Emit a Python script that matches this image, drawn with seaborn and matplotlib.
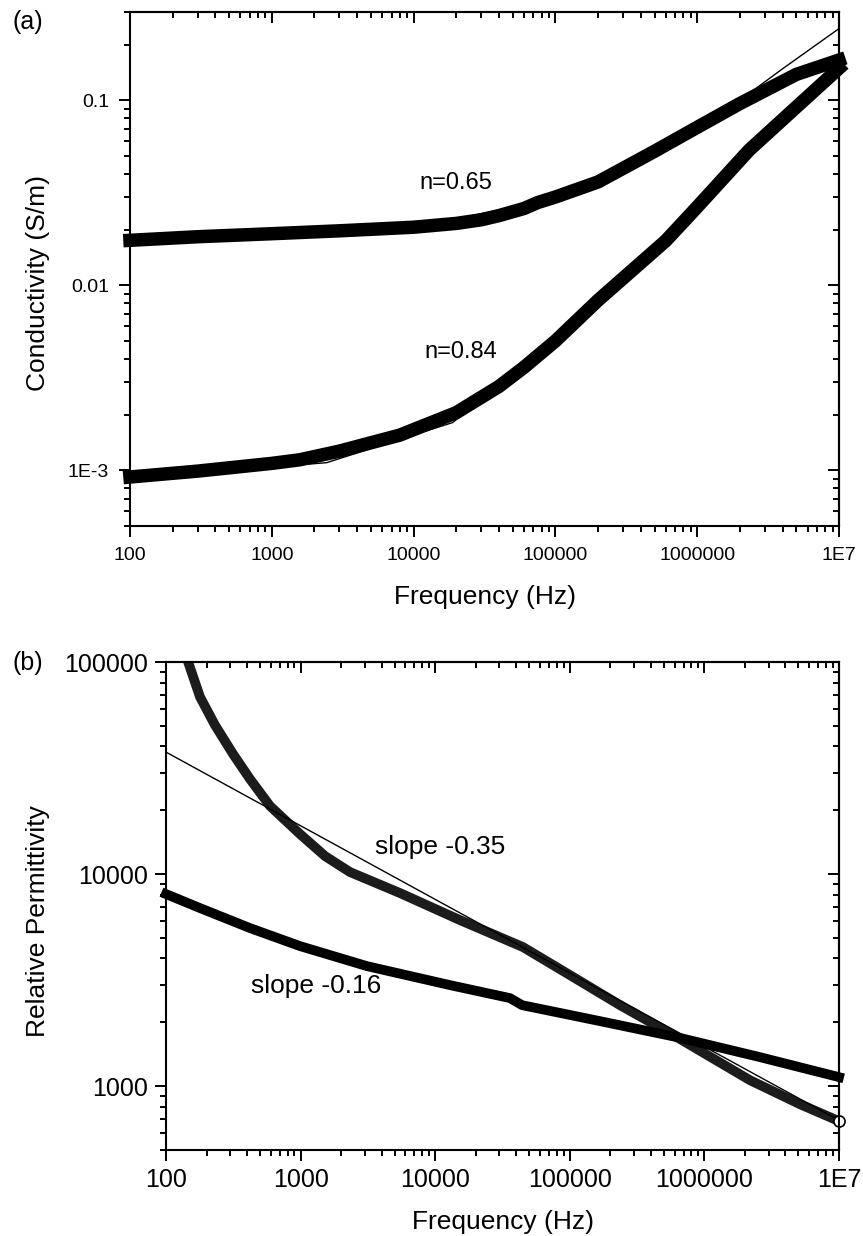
import numpy as np
import pandas as pd
import matplotlib
matplotlib.use("Agg")
import matplotlib.pyplot as plt
from matplotlib.ticker import LogLocator, NullFormatter
import seaborn as sns

# ---- panel (a): conductivity (S/m) vs frequency (Hz)
freq_a_hi = [100, 300, 1000, 3000, 10000, 20000, 30000, 40000, 60000, 75000, 100000,
             200000, 500000, 1e6, 2e6, 5e6, 1e7]
sig_a_hi = [0.0175, 0.0183, 0.0190, 0.0197, 0.0206, 0.0216, 0.0226, 0.0238, 0.0260, 0.0280, 0.0300,
            0.0362, 0.0530, 0.0714, 0.0960, 0.138, 0.165]
freq_a_lo = [100, 300, 1000, 1575, 3000, 8000, 20000, 40000, 60000, 100000, 200000,
             600000, 1e6, 2.32e6, 4.9e6, 6.9e6, 1e7]
sig_a_lo = [9.2e-4, 9.9e-4, 1.09e-3, 1.14e-3, 1.27e-3, 1.55e-3, 2.05e-3, 2.84e-3, 3.6e-3, 5.0e-3, 8.3e-3,
            0.0174, 0.0265, 0.0537, 0.0906, 0.115, 0.149]
# fitted curves
fit_f_hi = [100, 1000, 10000, 100000, 1e6, 2e6, 4e6, 1e7]
fit_s_hi = [0.0172, 0.0188, 0.0205, 0.0295, 0.0715, 0.100, 0.148, 0.244]
fit_f_lo = [100, 1000, 2440, 18800, 100000, 1e6, 1e7]
fit_s_lo = [9.2e-4, 1.04e-3, 1.10e-3, 1.81e-3, 4.9e-3, 0.0265, 0.150]

# ---- panel (b): relative permittivity vs frequency (Hz)
freq_b_hi = [146, 179, 231, 315, 421, 593, 990, 1518, 2328, 5477, 15280, 44870,
             100300, 236000, 625000, 2.18e6, 5.13e6, 1e7]
eps_b_hi = [100000, 68400, 50440, 36800, 28050, 20930, 15440, 12160, 10220, 8137, 6067, 4527,
            3339, 2410, 1702, 1067, 822, 684]
freq_b_lo = [100, 179, 421, 990, 3112, 12880, 35970, 44150, 167500, 625400, 2.59e6, 1e7]
eps_b_lo = [8050, 6913, 5563, 4575, 3681, 2995, 2601, 2410, 2026, 1702, 1370, 1103]
# power-law fit (slope -0.35)
fit_f_b = [100, 1e7]
fit_e_b = [37600, 690]

freq_ticks = [100, 1000, 10000, 100000, 1000000, 1e7]
freq_labels = ["100", "1000", "10000", "100000", "1000000", "1E7"]
sig_ticks = [1e-3, 0.01, 0.1]
sig_labels = ["1E-3", "0.01", "0.1"]
eps_ticks = [1000, 10000, 100000]
eps_labels = ["1000", "10000", "100000"]

sns.set_style("ticks", rc={"axes.edgecolor": "black", "xtick.color": "black",
                           "ytick.color": "black", "text.color": "black",
                           "axes.labelcolor": "black"})
plt.rcParams["font.family"] = ["Liberation Sans", "DejaVu Sans"]

fig = plt.figure(figsize=(8.63, 12.36), dpi=100)
ax_a = fig.add_axes([130 / 863, 1 - 526 / 1236, 709 / 863, 514 / 1236])
ax_b = fig.add_axes([166 / 863, 1 - 1150 / 1236, 673 / 863, 488 / 1236])


def style_axes(ax, ylim, yticks, ylabels, fs, pad):
    ax.set_xscale("log")
    ax.set_yscale("log")
    ax.set_xlim(100, 1e7)
    ax.set_ylim(*ylim)
    ax.set_xticks(freq_ticks, freq_labels)
    ax.set_yticks(yticks, ylabels)
    ax.xaxis.set_minor_locator(LogLocator(base=10, subs=np.arange(2, 10), numticks=50))
    ax.yaxis.set_minor_locator(LogLocator(base=10, subs=np.arange(2, 10), numticks=50))
    ax.xaxis.set_minor_formatter(NullFormatter())
    ax.yaxis.set_minor_formatter(NullFormatter())
    ax.tick_params(which="major", direction="out", length=8, width=1.4, labelsize=fs, pad=pad)
    ax.tick_params(which="minor", direction="out", length=4.5, width=1.4)
    for s in ax.spines.values():
        s.set_linewidth(1.5)
        s.set_visible(True)
    # mirrored ticks on top and right, pointing inward
    top = ax.secondary_xaxis("top")
    right = ax.secondary_yaxis("right")
    for sec, axis in ((top, top.xaxis), (right, right.yaxis)):
        axis.set_major_locator(LogLocator(base=10, numticks=50))
        axis.set_minor_locator(LogLocator(base=10, subs=np.arange(2, 10), numticks=50))
        axis.set_major_formatter(NullFormatter())
        axis.set_minor_formatter(NullFormatter())
        sec.tick_params(which="major", direction="in", length=8, width=1.4)
        sec.tick_params(which="minor", direction="in", length=4.5, width=1.4)
        for s in sec.spines.values():
            s.set_linewidth(1.5)


# panel (a)
band_kw = dict(color="black", solid_capstyle="projecting", clip_on=False, legend=False)
sns.lineplot(x=freq_a_hi, y=sig_a_hi, ax=ax_a, lw=9.7, **band_kw)
sns.lineplot(x=freq_a_lo, y=sig_a_lo, ax=ax_a, lw=9.7, **band_kw)
sns.lineplot(x=fit_f_hi, y=fit_s_hi, ax=ax_a, lw=1.0, color="black")
sns.lineplot(x=fit_f_lo, y=fit_s_lo, ax=ax_a, lw=1.0, color="black")
style_axes(ax_a, (5e-4, 0.3), sig_ticks, sig_labels, 14, 7)
ax_a.set_xlabel("Frequency (Hz)", fontsize=19, labelpad=15)
ax_a.set_ylabel("Conductivity (S/m)", fontsize=19)
ax_a.yaxis.set_label_coords(-0.113, 0.473)
ax_a.text(2.0e4, 0.0357, "n=0.65", fontsize=17, ha="center", va="center")
ax_a.text(2.14e4, 4.35e-3, "n=0.84", fontsize=17, ha="center", va="center")

# panel (b)
sns.lineplot(x=freq_b_hi, y=eps_b_hi, ax=ax_b, lw=7, color="#1c1c1c",
             solid_capstyle="round", legend=False)
sns.lineplot(x=freq_b_lo, y=eps_b_lo, ax=ax_b, lw=7, color="black",
             solid_capstyle="projecting", clip_on=False, legend=False)
sns.lineplot(x=fit_f_b, y=fit_e_b, ax=ax_b, lw=1.0, color="black")
ax_b.plot(freq_b_hi[-1:], eps_b_hi[-1:], "o", ms=8, mfc="white", mec="black",
          mew=1.2, clip_on=False)
style_axes(ax_b, (500, 1e5), eps_ticks, eps_labels, 18, 5)
ax_b.set_xlabel("Frequency (Hz)", fontsize=19, labelpad=13)
ax_b.set_ylabel("Relative Permittivity", fontsize=19)
ax_b.yaxis.set_label_coords(-0.172, 0.469)
ax_b.text(1.086e4, 1.34e4, "slope -0.35", fontsize=19, ha="center", va="center")
ax_b.text(1.3e3, 2.96e3, "slope -0.16", fontsize=19, ha="center", va="center")

fig.text(28 / 863, 1 - 22 / 1236, "(a)", fontsize=18, ha="center", va="center")
fig.text(28 / 863, 1 - 663 / 1236, "(b)", fontsize=18, ha="center", va="center")

fig.savefig("out.png", dpi=100)
